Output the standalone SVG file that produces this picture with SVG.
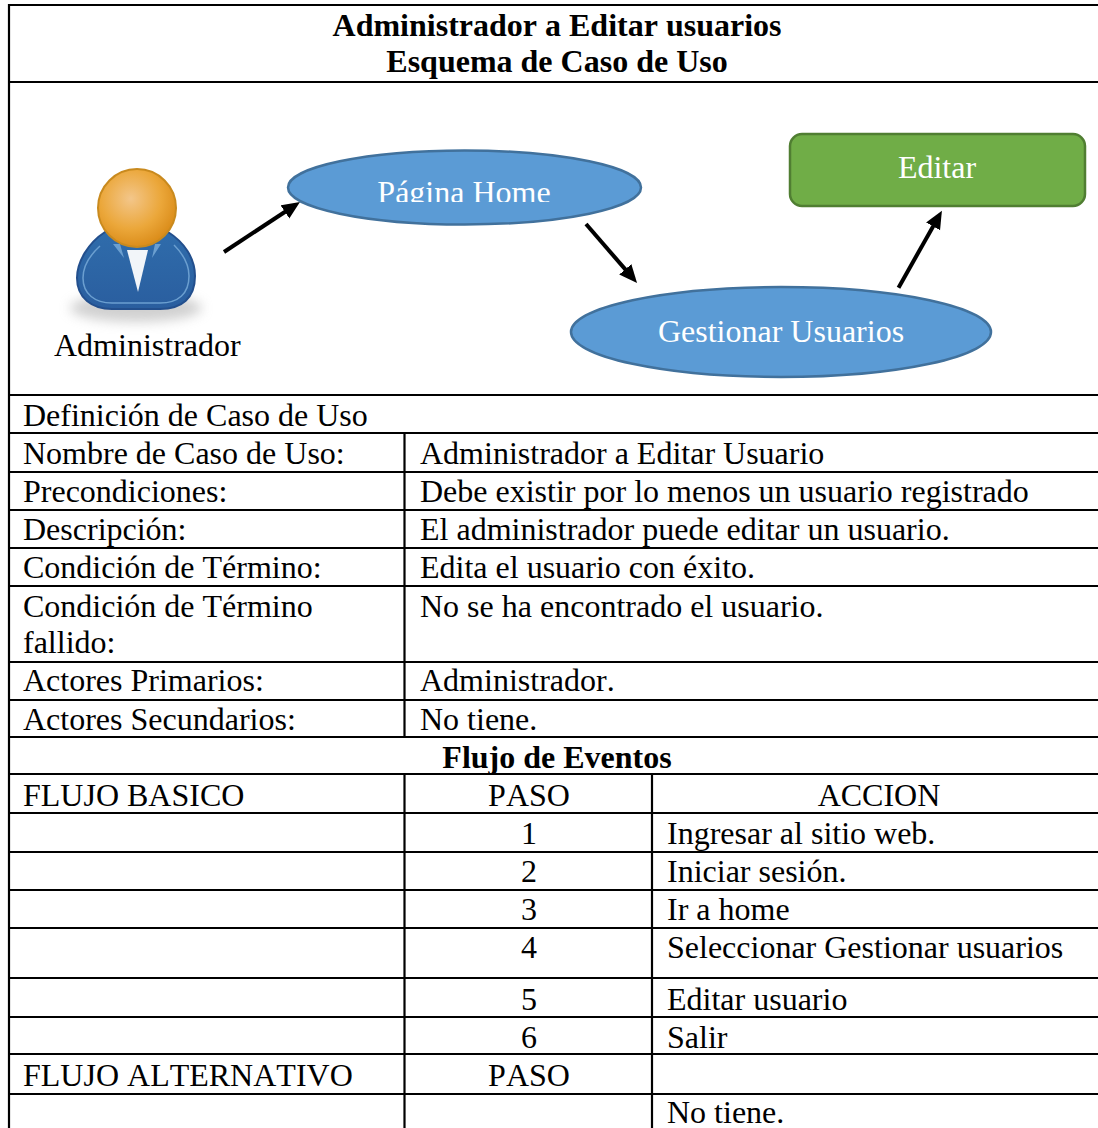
<svg xmlns="http://www.w3.org/2000/svg" width="1098" height="1128" viewBox="0 0 1098 1128">
<style>
text{font-family:"Liberation Serif","Times New Roman",serif;font-size:32px;fill:#000;font-kerning:none}
.b{font-weight:700}.m{text-anchor:middle}
.w{fill:#fff}
.l{stroke:#000;stroke-width:2.2;fill:none}
.a{stroke:#000;stroke-width:4;fill:none;marker-end:url(#ah)}
.e{fill:#5b9bd5;stroke:#41719c;stroke-width:2.5}
</style>
<defs>
<marker id="ah" markerUnits="userSpaceOnUse" markerWidth="20" markerHeight="18" refX="8" refY="8" orient="auto"><path d="M0 0L18 8L0 16Z" fill="#000"/></marker>
<clipPath id="hc"><rect x="288" y="150" width="354" height="52"/></clipPath>
<radialGradient id="hg" cx="0.42" cy="0.38" r="0.65"><stop offset="0" stop-color="#f3c68a"/><stop offset="0.6" stop-color="#eba73a"/><stop offset="1" stop-color="#d98a17"/></radialGradient>
<linearGradient id="bg" x1="0" y1="0" x2="0" y2="1"><stop offset="0" stop-color="#2f6cab"/><stop offset="1" stop-color="#2a5e9f"/></linearGradient>
<filter id="bl" x="-30%" y="-50%" width="160%" height="200%"><feGaussianBlur stdDeviation="6"/></filter>
</defs>
<rect width="1098" height="1128" fill="#fff"/>
<g id="table">
<path class="l" d="M9 4V1128M8 5H1098M8 82H1098M8 395H1098M8 433H1098M8 472H1098M8 510H1098M8 548H1098M8 586H1098M8 662H1098M8 700H1098M8 737H1098M8 774H1098M8 813H1098M8 852H1098M8 890H1098M8 928H1098M8 978H1098M8 1017H1098M8 1054H1098M8 1094H1098M404.5 433V737M404.5 774V1128M652 774V1128"/>
<text class="b m" x="557" y="36">Administrador a Editar usuarios</text>
<text class="b m" x="557" y="72">Esquema de Caso de Uso</text>
<text x="23" y="426">Definición de Caso de Uso</text>
<text x="23" y="464">Nombre de Caso de Uso:</text>
<text x="420" y="464">Administrador a Editar Usuario</text>
<text x="23" y="502">Precondiciones:</text>
<text x="420" y="502">Debe existir por lo menos un usuario registrado</text>
<text x="23" y="540">Descripción:</text>
<text x="420" y="540">El administrador puede editar un usuario.</text>
<text x="23" y="578">Condición de Término:</text>
<text x="420" y="578">Edita el usuario con éxito.</text>
<text x="23" y="617">Condición de Término</text>
<text x="23" y="653">fallido:</text>
<text x="420" y="617">No se ha encontrado el usuario.</text>
<text x="23" y="691">Actores Primarios:</text>
<text x="420" y="691">Administrador.</text>
<text x="23" y="730">Actores Secundarios:</text>
<text x="420" y="730">No tiene.</text>
<text class="b m" x="557" y="768">Flujo de Eventos</text>
<text x="23" y="806">FLUJO BASICO</text>
<text class="m" x="529" y="806">PASO</text>
<text class="m" x="879" y="806">ACCION</text>
<text class="m" x="529" y="844">1</text>
<text x="667" y="844">Ingresar al sitio web.</text>
<text class="m" x="529" y="882">2</text>
<text x="667" y="882">Iniciar sesión.</text>
<text class="m" x="529" y="920">3</text>
<text x="667" y="920">Ir a home</text>
<text class="m" x="529" y="958">4</text>
<text x="667" y="958">Seleccionar Gestionar usuarios</text>
<text class="m" x="529" y="1010">5</text>
<text x="667" y="1010">Editar usuario</text>
<text class="m" x="529" y="1048">6</text>
<text x="667" y="1048">Salir</text>
<text x="23" y="1086">FLUJO ALTERNATIVO</text>
<text class="m" x="529" y="1086">PASO</text>
<text x="667" y="1123">No tiene.</text>
</g>
<g id="actor">
<ellipse cx="136" cy="308" rx="66" ry="14" fill="#aaa" opacity=".55" filter="url(#bl)"/>
<path d="M105 232C88 243 77 262 77 278C77 298 92 309 112 309H160C182 309 195 298 195 276C195 258 184 242 168 232Z" fill="url(#bg)" stroke="#234f8d" stroke-width="2"/>
<path d="M100 246C89 256 83 267 83 278C83 294 95 303 112 303H160C178 303 189 294 189 276C189 264 183 254 174 245" fill="none" stroke="#6b9fd0" stroke-width="1.5"/>
<path d="M127 250L138 292L148 250Z" fill="#f2f5f9"/>
<path d="M113 244L124 258L120 244ZM161 244L152 258L155 244Z" fill="#6b9fd0"/>
<circle cx="137" cy="208" r="39" fill="url(#hg)" stroke="#c98a1e" stroke-width="2"/>
<text x="54" y="356">Administrador</text>
</g>
<g id="home">
<ellipse class="e" cx="464.5" cy="187.5" rx="176.5" ry="37"/>
<text class="m w" x="464" y="203" clip-path="url(#hc)">Página Home</text>
</g>
<g id="gestionar">
<ellipse class="e" cx="781" cy="332" rx="210" ry="45"/>
<text class="m w" x="781" y="342">Gestionar Usuarios</text>
</g>
<g id="editar">
<rect x="790" y="134" width="295" height="72" rx="12" fill="#70ad47" stroke="#507e32" stroke-width="2.5"/>
<text class="m w" x="937" y="178">Editar</text>
</g>
<g id="connectors">
<line class="a" x1="224" y1="252" x2="291.6" y2="207.5"/>
<line class="a" x1="586" y1="224" x2="630.5" y2="275.4"/>
<line class="a" x1="898.5" y1="287.7" x2="937" y2="219.4"/>
</g>
</svg>
